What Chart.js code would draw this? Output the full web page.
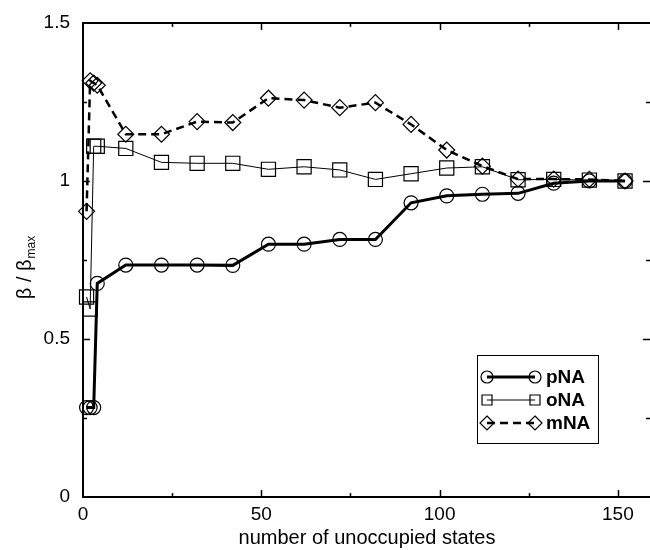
<!DOCTYPE html>
<html>
<head>
<meta charset="utf-8">
<script src="https://cdn.jsdelivr.net/npm/chart.js@4.4.1/dist/chart.umd.min.js"></script>
<style>
  body { margin: 0; background: #fff; }
  canvas { display: block; }
</style>
</head>
<body>
<canvas id="betaChart" width="650" height="550"></canvas>
<script>
const states = [1, 2, 3, 4, 12, 22, 32, 42, 52, 62, 72, 82, 92, 102, 112, 122, 132, 142, 152];
const pNA = [0.283, 0.283, 0.283, 0.676, 0.734, 0.734, 0.734, 0.733, 0.80, 0.80, 0.815, 0.815, 0.931, 0.953, 0.958, 0.961, 0.993, 1.0, 1.0];
const oNA = [0.633, 0.595, 1.11, 1.11, 1.103, 1.059, 1.056, 1.056, 1.037, 1.045, 1.035, 1.005, 1.023, 1.041, 1.045, 1.004, 1.005, 1.003, 1.0];
const mNA = [0.904, 1.317, 1.31, 1.303, 1.148, 1.148, 1.188, 1.185, 1.262, 1.256, 1.232, 1.248, 1.179, 1.098, 1.047, 1.006, 1.006, 1.005, 1.0];
const xTicks = [0, 50, 100, 150];
const xMinorTicks = [25, 75, 125];
const yTicks = [0, 0.5, 1, 1.5];
const yMinorTicks = [0.25, 0.75, 1.25];
const seriesNames = ["pNA", "oNA", "mNA"];

const FONT = '"Liberation Sans", Arial, Helvetica, sans-serif';

const toPoints = (vals) => vals.map((v, i) => ({ x: states[i], y: v }));

// plot frame + inward tick marks on all four sides
const frame = {
  id: "frame",
  afterDatasetsDraw(chart) {
    const { ctx, chartArea: a, scales: { x, y } } = chart;
    ctx.save();
    ctx.strokeStyle = "#000";
    ctx.lineWidth = 2;
    ctx.beginPath();
    ctx.moveTo(a.right, a.top);
    ctx.lineTo(a.left, a.top);
    ctx.lineTo(a.left, a.bottom);
    ctx.lineTo(a.right, a.bottom);
    ctx.stroke();

    ctx.lineWidth = 1.5;
    const xMarks = (vals, len) => vals.forEach((v) => {
      const px = Math.round(x.getPixelForValue(v)) + 0.5;
      ctx.beginPath();
      ctx.moveTo(px, a.bottom); ctx.lineTo(px, a.bottom - len);
      ctx.moveTo(px, a.top); ctx.lineTo(px, a.top + len);
      ctx.stroke();
    });
    const yMarks = (vals, len) => vals.forEach((v) => {
      const py = Math.round(y.getPixelForValue(v)) + 0.5;
      ctx.beginPath();
      ctx.moveTo(a.left, py); ctx.lineTo(a.left + len, py);
      ctx.moveTo(a.right, py); ctx.lineTo(a.right - len, py);
      ctx.stroke();
    });
    xMarks(xTicks.slice(1), 7);
    xMarks(xMinorTicks, 4);
    yMarks(yTicks.slice(1, -1), 7);
    yMarks(yMinorTicks, 4);
    ctx.restore();
  },
};

const drawMarker = (ctx, style, cx, cy, r) => {
  ctx.beginPath();
  if (style === "circle") {
    ctx.arc(cx, cy, r, 0, Math.PI * 2);
  } else if (style === "rect") {
    ctx.rect(cx - r, cy - r, 2 * r, 2 * r);
  } else {
    ctx.moveTo(cx, cy - r); ctx.lineTo(cx + r, cy);
    ctx.lineTo(cx, cy + r); ctx.lineTo(cx - r, cy);
    ctx.closePath();
  }
  ctx.stroke();
};

// axis titles and boxed legend
const labels = {
  id: "labels",
  afterDraw(chart) {
    const { ctx } = chart;
    ctx.save();
    ctx.fillStyle = "#000";
    ctx.textBaseline = "middle";
    ctx.textAlign = "center";
    ctx.font = "20px " + FONT;
    ctx.fillText("number of unoccupied states", 367, 538);

    // y title: β / β_max, rotated
    ctx.translate(24, 268);
    ctx.rotate(-Math.PI / 2);
    ctx.textAlign = "left";
    ctx.textBaseline = "alphabetic";
    const main = "β / β";
    ctx.font = "20px " + FONT;
    const w1 = ctx.measureText(main).width;
    ctx.font = "12px " + FONT;
    const w2 = ctx.measureText("max").width;
    const start = -(w1 + w2) / 2;
    ctx.font = "20px " + FONT;
    ctx.fillText(main, start, 7);
    ctx.font = "12px " + FONT;
    ctx.fillText("max", start + w1 + 1, 11);
    ctx.setTransform(1, 0, 0, 1, 0, 0);

    // legend box
    const box = { l: 477, t: 355, r: 598, b: 443 };
    ctx.fillStyle = "#fff";
    ctx.fillRect(box.l, box.t, box.r - box.l, box.b - box.t);
    ctx.strokeStyle = "#000";
    ctx.lineWidth = 1;
    ctx.strokeRect(box.l + 0.5, box.t + 0.5, box.r - box.l, box.b - box.t);
    const rows = [377, 400, 423];
    chart.data.datasets.forEach((ds, i) => {
      const yy = rows[i];
      ctx.save();
      ctx.strokeStyle = "#000";
      ctx.lineWidth = ds.borderWidth;
      ctx.setLineDash(ds.borderDash || []);
      ctx.beginPath();
      ctx.moveTo(487, yy); ctx.lineTo(535, yy);
      ctx.stroke();
      ctx.setLineDash([]);
      ctx.lineWidth = 1.2;
      const r = ds.pointStyle === "circle" ? 6 : ds.pointStyle === "rect" ? 5 : 7;
      drawMarker(ctx, ds.pointStyle, 487, yy, r);
      drawMarker(ctx, ds.pointStyle, 535, yy, r);
      ctx.restore();
      ctx.fillStyle = "#000";
      ctx.font = "bold 19px " + FONT;
      ctx.textAlign = "left";
      ctx.textBaseline = "middle";
      ctx.fillText(ds.label, 546, yy + 1);
    });
    ctx.restore();
  },
};

new Chart(document.getElementById("betaChart").getContext("2d"), {
  type: "line",
  data: {
    datasets: [
      {
        label: seriesNames[0],
        data: toPoints(pNA),
        borderColor: "#000",
        borderWidth: 3,
        pointStyle: "circle",
        pointRadius: 7,
        pointBorderWidth: 1.2,
        pointBorderColor: "#000",
        pointBackgroundColor: "rgba(0,0,0,0)",
        clip: false,
      },
      {
        label: seriesNames[1],
        data: toPoints(oNA),
        borderColor: "#000",
        borderWidth: 1,
        pointStyle: "rect",
        pointRadius: 10,
        pointBorderWidth: 1.2,
        pointBorderColor: "#000",
        pointBackgroundColor: "rgba(0,0,0,0)",
        clip: false,
      },
      {
        label: seriesNames[2],
        data: toPoints(mNA),
        borderColor: "#000",
        borderWidth: 2.5,
        borderDash: [8, 5],
        pointStyle: "rectRot",
        pointRadius: 8,
        pointBorderWidth: 1.2,
        pointBorderColor: "#000",
        pointBackgroundColor: "rgba(0,0,0,0)",
        clip: false,
      },
    ],
  },
  options: {
    responsive: false,
    animation: false,
    layout: { autoPadding: false, padding: { top: 23, right: 0, bottom: 0, left: 0 } },
    plugins: { legend: { display: false }, tooltip: { enabled: false } },
    scales: {
      x: {
        type: "linear",
        min: 0,
        max: 159,
        grid: { display: false, drawTicks: false },
        border: { display: false },
        afterBuildTicks: (s) => { s.ticks = xTicks.map((v) => ({ value: v })); },
        afterFit: (s) => { s.height = 53; s.paddingLeft = 0; s.paddingRight = 0; },
        ticks: {
          color: "#000",
          padding: 6,
          maxRotation: 0,
          font: { family: FONT, size: 19 },
          callback: (v) => String(v),
        },
      },
      y: {
        min: 0,
        max: 1.5,
        grid: { display: false, drawTicks: false },
        border: { display: false },
        afterBuildTicks: (s) => { s.ticks = yTicks.map((v) => ({ value: v })); },
        afterFit: (s) => { s.width = 83; s.paddingTop = 0; s.paddingBottom = 0; },
        ticks: {
          color: "#000",
          padding: 13,
          font: { family: FONT, size: 19 },
          callback: (v) => String(v),
        },
      },
    },
  },
  plugins: [frame, labels],
});
</script>
</body>
</html>
